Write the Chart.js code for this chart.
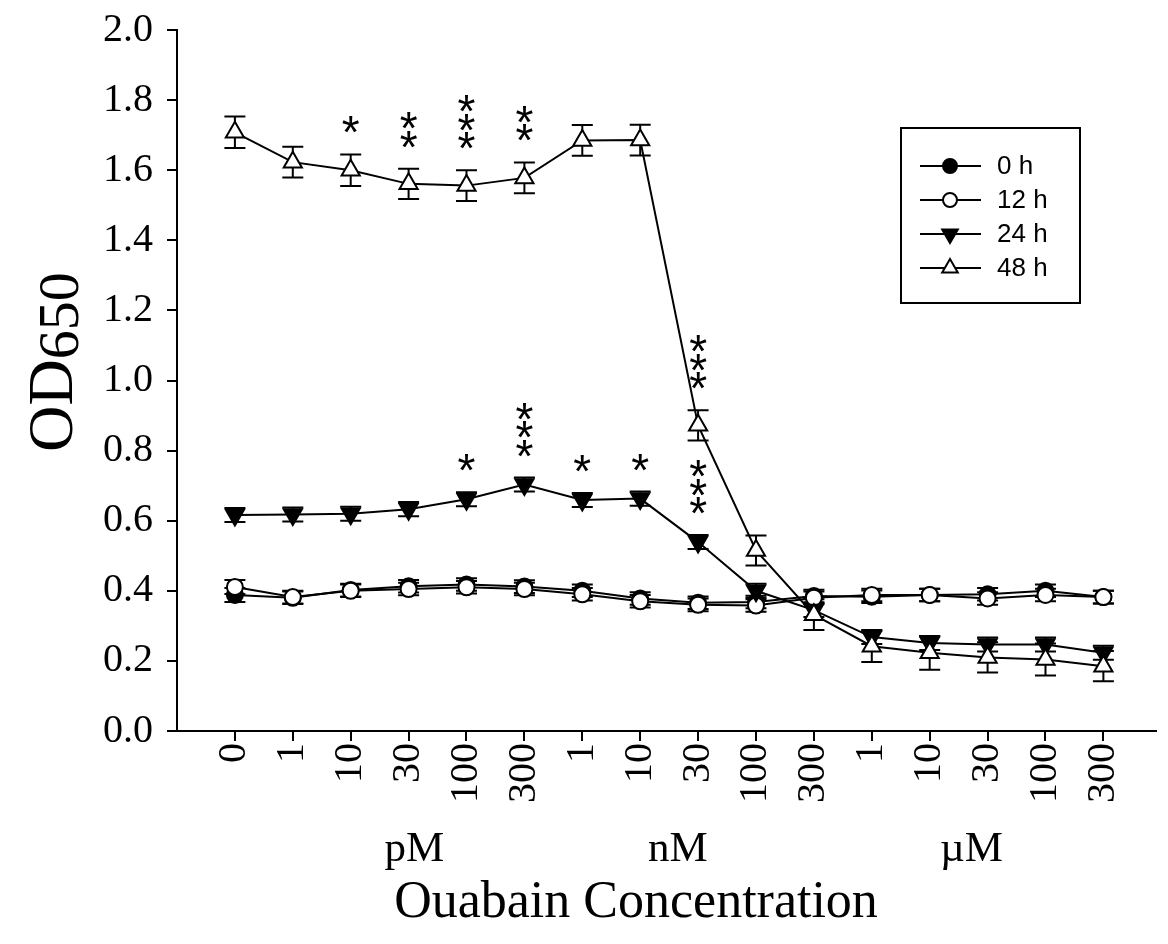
<!DOCTYPE html>
<html>
<head>
<meta charset="utf-8">
<script src="https://cdn.jsdelivr.net/npm/chart.js@4.4.1/dist/chart.umd.min.js"></script>
<style>
html, body { margin: 0; padding: 0; background: #fff; }
#wrap { width: 1168px; height: 944px; }
</style>
</head>
<body>
<div id="wrap"><canvas id="chart" width="1168" height="944"></canvas></div>
<script>
// Dados
const concLabels = ['0', '1', '10', '30', '100', '300', '1', '10', '30', '100', '300', '1', '10', '30', '100', '300'];
const unitLabels = ['pM', 'nM', 'µM'];
const unitPos = [3.1, 7.65, 12.72];
const seriesNames = ['0 h', '12 h', '24 h', '48 h'];

const od0  = [0.388, 0.380, 0.402, 0.413, 0.418, 0.412, 0.400, 0.378, 0.366, 0.368, 0.385, 0.383, 0.388, 0.390, 0.400, 0.382];
const od12 = [0.411, 0.382, 0.400, 0.405, 0.410, 0.405, 0.390, 0.370, 0.360, 0.358, 0.380, 0.388, 0.388, 0.378, 0.388, 0.382];
const od24 = [0.616, 0.618, 0.620, 0.633, 0.661, 0.703, 0.659, 0.663, 0.539, 0.400, 0.345, 0.268, 0.251, 0.247, 0.247, 0.223];
const od48 = [1.708, 1.623, 1.600, 1.561, 1.556, 1.578, 1.685, 1.686, 0.872, 0.515, 0.332, 0.242, 0.223, 0.210, 0.204, 0.185];

const err0  = [0.020, 0.018, 0.018, 0.018, 0.018, 0.018, 0.018, 0.018, 0.018, 0.018, 0.018, 0.018, 0.018, 0.018, 0.018, 0.018];
const err12 = [0.020, 0.018, 0.018, 0.018, 0.018, 0.018, 0.018, 0.018, 0.018, 0.018, 0.018, 0.018, 0.018, 0.018, 0.018, 0.018];
const err24 = [0.020, 0.020, 0.020, 0.020, 0.020, 0.020, 0.020, 0.020, 0.020, 0.020, 0.020, 0.020, 0.020, 0.020, 0.020, 0.020];
const err48 = [0.045, 0.044, 0.045, 0.043, 0.044, 0.044, 0.044, 0.044, 0.043, 0.043, 0.044, 0.045, 0.048, 0.043, 0.046, 0.043];

// número de asteriscos por ponto
const stars24 = [0, 0, 0, 0, 1, 3, 1, 1, 3, 0, 0, 0, 0, 0, 0, 0];
const stars48 = [0, 0, 1, 2, 3, 2, 0, 0, 3, 0, 0, 0, 0, 0, 0, 0];

const serif = '"Liberation Serif", "Times New Roman", serif';
const sans = '"Liberation Sans", Arial, sans-serif';

function pontos(arr) {
    return arr.map((v, i) => ({ x: i, y: v }));
}

const estilos = [
    { style: 'circle', rot: 0, r: 8, fill: '#000' },
    { style: 'circle', rot: 0, r: 8, fill: '#fff' },
    { style: 'triangle', rot: 180, r: 10.5, fill: '#000' },
    { style: 'triangle', rot: 0, r: 10.5, fill: '#fff' }
];
const valores = [od0, od12, od24, od48];
const erros = [err0, err12, err24, err48];

const datasets = valores.map((arr, k) => ({
    label: seriesNames[k],
    data: pontos(arr),
    borderColor: '#000',
    borderWidth: 2,
    backgroundColor: estilos[k].fill,
    pointStyle: estilos[k].style,
    rotation: estilos[k].rot,
    pointRadius: estilos[k].r,
    pointBorderWidth: 2,
    pointBorderColor: '#000',
    pointBackgroundColor: estilos[k].fill,
    tension: 0,
    fill: false,
    order: 4 - k
}));

const barrasErro = {
    id: 'barrasErro',
    beforeDatasetsDraw(chart) {
        const ctx = chart.ctx;
        const xs = chart.scales.x, ys = chart.scales.y;
        ctx.save();
        ctx.strokeStyle = '#000';
        ctx.lineWidth = 2;
        valores.forEach((arr, k) => {
            arr.forEach((v, i) => {
                const x = xs.getPixelForValue(i);
                const yt = ys.getPixelForValue(v + erros[k][i]);
                const yb = ys.getPixelForValue(v - erros[k][i]);
                ctx.beginPath();
                ctx.moveTo(x, yt); ctx.lineTo(x, yb);
                ctx.moveTo(x - 10.5, yt); ctx.lineTo(x + 10.5, yt);
                ctx.moveTo(x - 10.5, yb); ctx.lineTo(x + 10.5, yb);
                ctx.stroke();
            });
        });
        ctx.restore();
    }
};

function marcador(ctx, k, x, y, r) {
    const e = estilos[k];
    ctx.beginPath();
    if (e.style === 'circle') {
        ctx.arc(x, y, r, 0, Math.PI * 2);
    } else {
        const s = e.rot ? -1 : 1;
        ctx.moveTo(x, y - s * r);
        ctx.lineTo(x + r * 0.866, y + s * r * 0.5);
        ctx.lineTo(x - r * 0.866, y + s * r * 0.5);
        ctx.closePath();
    }
    ctx.fillStyle = e.fill;
    ctx.fill();
    ctx.stroke();
}

const anotacoes = {
    id: 'anotacoes',
    afterDraw(chart) {
        const ctx = chart.ctx;
        const xs = chart.scales.x, ys = chart.scales.y;
        ctx.save();

        // asteriscos
        ctx.fillStyle = '#000';
        ctx.font = '46px ' + sans;
        ctx.textAlign = 'center';
        ctx.textBaseline = 'alphabetic';
        [[stars24, od24, err24], [stars48, od48, err48]].forEach(([st, arr, er]) => {
            st.forEach((n, i) => {
                if (!n) return;
                const x = xs.getPixelForValue(i);
                const yTop = ys.getPixelForValue(arr[i] + er[i]);
                for (let j = 0; j < n; j++) {
                    const cy = yTop - 32 - j * 18.5;
                    ctx.fillText('*', x, cy + 26);
                }
            });
        });

        // unidades
        ctx.font = '43px ' + serif;
        ctx.textBaseline = 'middle';
        unitLabels.forEach((t, i) => {
            ctx.fillText(t, xs.getPixelForValue(unitPos[i]), 850);
        });

        // título do eixo x
        ctx.font = '52px ' + serif;
        ctx.fillText('Ouabain Concentration', 636, 903);

        // título do eixo y com subscrito
        ctx.save();
        ctx.translate(72, 362);
        ctx.rotate(-Math.PI / 2);
        ctx.textAlign = 'left';
        ctx.textBaseline = 'alphabetic';
        ctx.font = '64px ' + serif;
        const w1 = ctx.measureText('OD').width;
        ctx.font = '58px ' + serif;
        const w2 = ctx.measureText('650').width;
        ctx.font = '64px ' + serif;
        ctx.fillText('OD', -(w1 + w2) / 2, 0);
        ctx.font = '58px ' + serif;
        ctx.fillText('650', -(w1 + w2) / 2 + w1, 6);
        ctx.restore();

        // legenda
        ctx.lineWidth = 2;
        ctx.strokeStyle = '#000';
        ctx.strokeRect(901, 128, 179, 175);
        ctx.font = '26px ' + sans;
        ctx.textAlign = 'left';
        ctx.textBaseline = 'middle';
        seriesNames.forEach((nome, k) => {
            const y = 166 + k * 34;
            ctx.beginPath();
            ctx.moveTo(920, y); ctx.lineTo(981, y);
            ctx.stroke();
            marcador(ctx, k, 950, y, k < 2 ? 7 : 9);
            ctx.fillStyle = '#000';
            ctx.fillText(nome, 997, y + 1);
        });

        ctx.restore();
    }
};

new Chart(document.getElementById('chart'), {
    type: 'line',
    data: { datasets: datasets },
    options: {
        responsive: false,
        animation: false,
        events: [],
        layout: { padding: { top: 30, right: 0, left: 0, bottom: 0 } },
        plugins: { legend: { display: false }, tooltip: { enabled: false } },
        scales: {
            x: {
                type: 'linear',
                min: -1,
                max: 15.9,
                afterBuildTicks: (s) => { s.ticks = concLabels.map((_, i) => ({ value: i })); },
                afterFit: (s) => { s.height = 213; s.paddingLeft = 0; s.paddingRight = 0; },
                ticks: {
                    callback: (v) => concLabels[v],
                    autoSkip: false,
                    minRotation: 90,
                    maxRotation: 90,
                    padding: 2,
                    color: '#000',
                    font: { family: serif, size: 40 }
                },
                grid: { drawOnChartArea: false, drawTicks: true, tickLength: 10, color: '#000', lineWidth: 2 },
                border: { display: true, color: '#000', width: 2 }
            },
            y: {
                min: 0,
                max: 2,
                afterFit: (s) => { s.width = 177; s.paddingTop = 0; s.paddingBottom = 0; },
                ticks: {
                    stepSize: 0.2,
                    callback: (v) => v.toFixed(1),
                    padding: 14,
                    color: '#000',
                    font: { family: serif, size: 40 }
                },
                grid: { drawOnChartArea: false, drawTicks: true, tickLength: 10, color: '#000', lineWidth: 2 },
                border: { display: true, color: '#000', width: 2 }
            }
        }
    },
    plugins: [barrasErro, anotacoes]
});
</script>
</body>
</html>
